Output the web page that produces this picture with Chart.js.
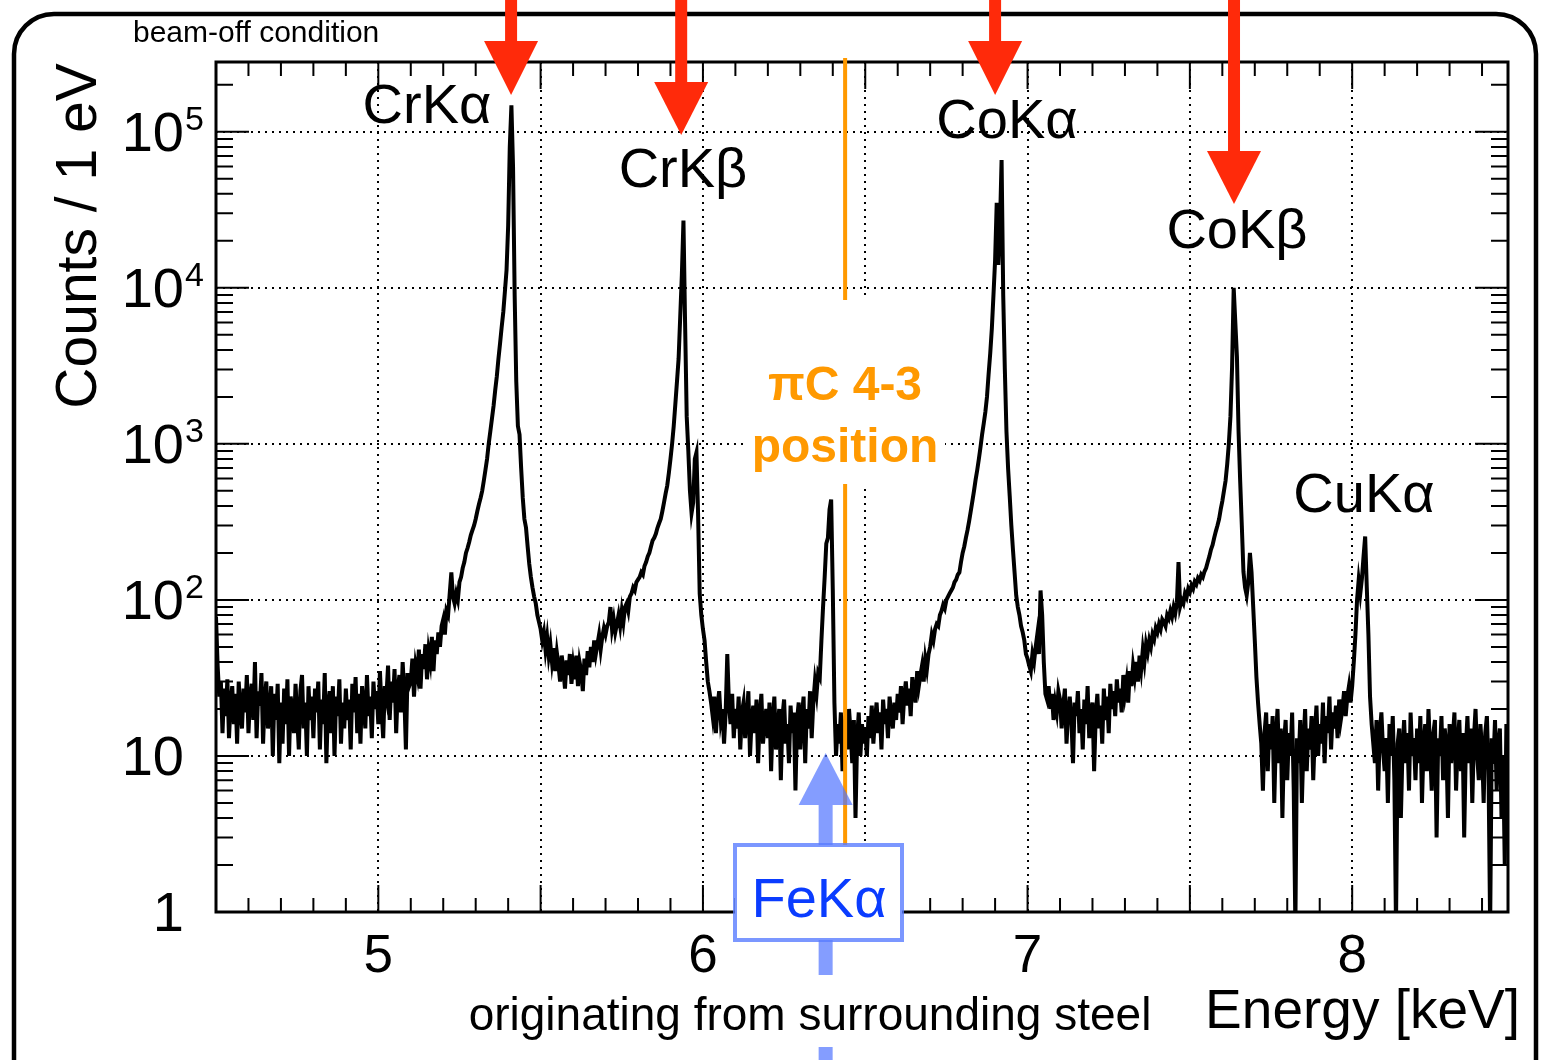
<!DOCTYPE html>
<html>
<head>
<meta charset="utf-8">
<script src="https://cdn.jsdelivr.net/npm/chart.js@4.4.1/dist/chart.umd.min.js"></script>
<style>
  html, body { margin: 0; padding: 0; background: #fff; }
  #wrap { width: 1541px; height: 1060px; }
</style>
</head>
<body>
<div id="wrap"><canvas id="spectrum" width="1541" height="1060"></canvas></div>
<script>
// --- Spectrum data: counts per bin in 5 eV steps from 4.500 keV ---
const eStart = 4.5;
const eStep = 0.005;
const counts = [
  78, 38, 24, 30, 14, 27, 18, 31, 13, 22, 28, 16, 25, 12, 30, 20, 15, 27, 19, 33,            // 4.50
  14, 24, 29, 17, 40, 13, 26, 21, 34, 12, 23, 30, 15, 19, 28, 10, 25, 17, 29, 9,             // 4.60
  22, 12, 27, 16, 31, 10, 24, 20, 14, 29, 18, 11, 26, 33, 15, 22, 10, 28, 17, 24,            // 4.70
  13, 27, 19, 30, 11, 23, 16, 34, 9, 21, 26, 14, 28, 10, 24, 18, 31, 12, 22, 15,             // 4.80
  27, 17, 23, 11, 29, 19, 32, 14, 25, 12, 28, 21, 15, 33, 18, 24, 13, 30, 20, 26,            // 4.90
  16, 35, 20, 13, 28, 24, 38, 17, 30, 22, 36, 14, 27, 33, 19, 40, 25, 11, 34, 28,            // 5.00
  30, 42, 24, 38, 33, 48, 27, 45, 36, 52, 31, 47, 40, 58, 35, 55, 45, 62, 50, 68,            // 5.10
  75, 60, 85, 80, 110, 150, 105, 95, 110, 100, 130, 140, 160, 175, 200, 215, 235, 260, 280, 300, // 5.20
  330, 370, 410, 450, 500, 580, 680, 800, 1000, 1200, 1450, 1750, 2200, 2700, 3500, 4400, 5600, 7000, 9500, 13000, // 5.30
  25000, 80000, 148000, 60000, 9000, 2500, 1300, 1150, 700, 450, 330, 290, 220, 170, 140, 120, 105, 95, 80, 72, // 5.40
  65, 55, 62, 48, 58, 44, 52, 40, 49, 35, 46, 38, 30, 44, 36, 27, 41, 33, 45, 29,            // 5.50
  38, 31, 44, 28, 40, 35, 26, 42, 33, 47, 37, 50, 40, 55, 45, 52, 60, 48, 58, 66,            // 5.60
  60, 68, 72, 90, 65, 75, 62, 70, 80, 68, 85, 72, 90, 95, 85, 105, 110, 120, 115, 130,       // 5.70
  135, 140, 150, 145, 165, 175, 190, 200, 220, 240, 250, 265, 290, 310, 330, 370, 420, 480, 540, 650, // 5.80
  800, 1000, 1300, 1800, 2500, 3500, 6500, 12000, 27000, 6000, 1500, 900, 500, 360, 420, 800, 880, 360, 110, 80, // 5.90
  65, 55, 40, 30, 26, 22, 18, 24, 14, 21, 26, 17, 20, 12, 19, 45, 22, 16, 25, 13,            // 6.00
  20, 15, 24, 11, 19, 22, 13, 18, 26, 10, 17, 21, 14, 23, 9, 18, 25, 12, 16, 20,             // 6.10
  13, 22, 8, 17, 24, 11, 15, 20, 7, 18, 23, 12, 16, 9, 21, 14, 19, 6, 17, 22,                // 6.20
  11, 18, 24, 9, 20, 15, 26, 13, 22, 30, 25, 34, 32, 55, 90, 140, 230, 250, 380, 440,        // 6.30
  117, 22, 10, 16, 12, 19, 8, 15, 18, 11, 20, 14, 9, 17, 4, 13, 19, 10, 16, 12,              // 6.40
  15, 10, 18, 13, 21, 12, 17, 22, 14, 19, 11, 23, 16, 20, 13, 24, 18, 15, 22, 17,            // 6.50
  25, 19, 28, 16, 24, 30, 21, 27, 18, 32, 26, 22, 35, 28, 33, 38, 30, 42, 36, 45,            // 6.60
  50, 60, 55, 65, 70, 68, 80, 85, 93, 88, 100, 105, 110, 115, 120, 130, 135, 145, 150, 175,  // 6.70
  200, 220, 250, 280, 320, 370, 430, 500, 590, 680, 800, 950, 1150, 1350, 1600, 2000, 2800, 3800, 5500, 9000, // 6.80
  15000, 35000, 14000, 25000, 66000, 9000, 3000, 1200, 700, 465, 300, 210, 150, 107, 90, 80, 68, 62, 55, 45, // 6.90
  42, 38, 35, 45, 40, 50, 60, 45, 115, 80, 40, 25, 23, 28, 20, 25, 17, 22, 19, 26,           // 7.00
  23, 15, 21, 27, 12, 19, 24, 17, 9, 22, 18, 26, 14, 20, 11, 23, 16, 28, 13, 19,             // 7.10
  22, 8, 18, 25, 15, 21, 12, 27, 17, 24, 14, 29, 20, 26, 18, 31, 22, 27, 19, 33,             // 7.20
  25, 30, 22, 35, 28, 38, 32, 40, 30, 44, 36, 48, 40, 52, 46, 55, 50, 60, 56, 66,            // 7.30
  62, 70, 65, 75, 72, 68, 80, 76, 85, 78, 90, 82, 96, 175, 91, 100, 95, 110, 104, 118,       // 7.40
  112, 124, 118, 131, 126, 138, 133, 145, 140, 152, 160, 175, 190, 210, 225, 250, 275, 300, 330, 380, // 7.50
  430, 500, 580, 740, 1000, 1500, 3100, 10000, 6000, 3600, 1200, 575, 300, 152, 120, 107, 130, 200, 150, 91, // 7.60
  55, 32, 22, 16, 12, 6, 14, 19, 8, 16, 11, 18, 5, 13, 20, 9, 15, 4, 12, 17,                 // 7.70
  7, 14, 10, 19, 6, 0.8, 13, 9, 17, 5, 12, 20, 8, 15, 11, 18, 7, 14, 21, 10,                 // 7.80
  16, 12, 22, 9, 18, 14, 24, 11, 19, 15, 21, 13, 23, 17, 20, 26, 18, 24, 28, 22,             // 7.90
  28, 40, 60, 100, 134, 110, 137, 190, 255, 120, 60, 24, 16, 12, 9, 17, 6, 14, 19, 11,       // 8.00
  8, 13, 5, 16, 10, 18, 7, 0.8, 12, 15, 4, 11, 17, 9, 14, 6, 19, 10, 13, 7,                  // 8.10
  15, 9, 18, 5, 12, 16, 8, 20, 11, 6, 14, 17, 3, 13, 10, 18, 7, 15, 12, 4,                   // 8.20
  16, 9, 13, 19, 6, 12, 17, 8, 14, 3, 11, 18, 9, 15, 5, 13, 20, 10, 7, 16,                   // 8.30
  11, 5, 14, 18, 8, 0.8, 13, 9, 17, 6, 12, 15, 4, 10, 2, 16, 9                               // 8.40
];

// --- Axes ---
const xMin = 4.5, xMax = 8.48;
const yMin = 1, yMax = 2.8e5;
const xTickLabels = [5, 6, 7, 8];
const xGridLines = [5, 5.5, 6, 6.5, 7, 7.5, 8];
const yDecades = [1, 10, 100, 1000, 10000, 100000];
const yLabelBase = ['1', '10', '10', '10', '10', '10'];
const yLabelExp = ['', '', '2', '3', '4', '5'];

// --- Annotations ---
const peakNames = ['CrKα', 'CrKβ', 'CoKα', 'CoKβ', 'CuKα'];
const arrowEnergies = [5.409, 5.933, 6.900, 7.636];   // red arrows (keV)
const piC43Energy = 6.438;                            // orange marker (keV)
const feKaEnergy = 6.378;                             // blue arrow (keV)

const FONT = '"Liberation Sans", Arial, Helvetica, sans-serif';

const points = counts.map((c, i) => ({ x: +(eStart + i * eStep).toFixed(3), y: c }));

function redArrow(ctx, x, headTop, tipY) {
    ctx.fillStyle = '#ff2a0a';
    ctx.fillRect(x - 6, 0, 12, headTop + 2);
    ctx.beginPath();
    ctx.moveTo(x - 27, headTop);
    ctx.lineTo(x + 27, headTop);
    ctx.lineTo(x, tipY);
    ctx.closePath();
    ctx.fill();
}

const overlay = {
    id: 'overlay',
    beforeDatasetsDraw(chart) {
        const { ctx, chartArea: a, scales: { x, y } } = chart;
        ctx.save();
        ctx.strokeStyle = '#000';
        ctx.lineWidth = 2;
        ctx.setLineDash([2, 5]);
        xGridLines.forEach(v => {
            const px = Math.round(x.getPixelForValue(v));
            ctx.beginPath(); ctx.moveTo(px, a.top); ctx.lineTo(px, a.bottom); ctx.stroke();
        });
        yDecades.slice(1).forEach(v => {
            const py = Math.round(y.getPixelForValue(v));
            ctx.beginPath(); ctx.moveTo(a.left, py); ctx.lineTo(a.right, py); ctx.stroke();
        });
        ctx.restore();
    },
    afterDatasetsDraw(chart) {
        const { ctx, chartArea: a, scales: { x, y } } = chart;
        ctx.save();

        // figure frame (rounded, open at the bottom)
        ctx.strokeStyle = '#000';
        ctx.lineWidth = 4.5;
        ctx.beginPath();
        ctx.roundRect(14, 14, 1522, 1120, 40);
        ctx.stroke();

        // plot frame
        ctx.lineWidth = 3;
        ctx.strokeRect(a.left, a.top, a.right - a.left, a.bottom - a.top);

        // x ticks (bottom and top)
        ctx.lineWidth = 2;
        for (let k = 46; k <= 84; k++) {
            const px = x.getPixelForValue(k / 10);
            const len = k % 5 === 0 ? 27 : 14;
            ctx.beginPath();
            ctx.moveTo(px, a.bottom); ctx.lineTo(px, a.bottom - len);
            ctx.moveTo(px, a.top); ctx.lineTo(px, a.top + len);
            ctx.stroke();
        }
        // y ticks (left and right)
        yDecades.forEach(d => {
            for (let m = 1; m <= 9; m++) {
                const v = m * d;
                if (v <= yMin || v > yMax) continue;
                const py = y.getPixelForValue(v);
                const len = m === 1 ? 33 : 17;
                ctx.beginPath();
                ctx.moveTo(a.left, py); ctx.lineTo(a.left + len, py);
                ctx.moveTo(a.right, py); ctx.lineTo(a.right - len, py);
                ctx.stroke();
            }
        });

        // tick labels
        ctx.fillStyle = '#000';
        ctx.font = '53px ' + FONT;
        ctx.textAlign = 'center';
        ctx.textBaseline = 'alphabetic';
        xTickLabels.forEach(v => ctx.fillText(String(v), x.getPixelForValue(v), 972));
        yDecades.forEach((d, i) => {
            const py = y.getPixelForValue(d);
            ctx.font = '56px ' + FONT;
            ctx.textAlign = 'right';
            ctx.fillText(yLabelBase[i], 184, py + 19);
            if (yLabelExp[i]) {
                ctx.font = '34px ' + FONT;
                ctx.textAlign = 'left';
                ctx.fillText(yLabelExp[i], 185, py - 2);
            }
        });

        // axis titles
        ctx.font = '55px ' + FONT;
        ctx.textAlign = 'right';
        ctx.fillText('Energy [keV]', 1520, 1028);
        ctx.font = '57px ' + FONT;
        ctx.save();
        ctx.translate(96, 236);
        ctx.rotate(-Math.PI / 2);
        ctx.textAlign = 'center';
        ctx.fillText('Counts / 1 eV', 0, 0);
        ctx.restore();

        ctx.font = '30px ' + FONT;
        ctx.textAlign = 'left';
        ctx.fillText('beam-off condition', 133, 42);

        // peak names
        ctx.font = '56px ' + FONT;
        ctx.textAlign = 'center';
        const labelPos = [[427, 123], [683, 187], [1007, 138], [1237, 248], [1364, 512]];
        peakNames.forEach((n, i) => ctx.fillText(n, labelPos[i][0], labelPos[i][1]));

        // pionic carbon 4-3 marker
        const ox = x.getPixelForValue(piC43Energy);
        ctx.fillStyle = '#fff';
        ctx.fillRect(745, 300, 200, 184);
        ctx.strokeStyle = '#ff9900';
        ctx.lineWidth = 4;
        ctx.beginPath();
        ctx.moveTo(ox, 58); ctx.lineTo(ox, 300);
        ctx.moveTo(ox, 484); ctx.lineTo(ox, 845);
        ctx.stroke();
        ctx.fillStyle = '#ff9900';
        ctx.font = 'bold 48px ' + FONT;
        ctx.fillText('πC 4-3', 845, 400);
        ctx.fillText('position', 845, 462);

        // FeKa arrow and box
        const bx = x.getPixelForValue(feKaEnergy);
        ctx.fillStyle = 'rgba(80, 115, 255, 0.7)';
        ctx.beginPath();
        ctx.moveTo(bx, 753);
        ctx.lineTo(bx + 27, 805);
        ctx.lineTo(bx - 27, 805);
        ctx.closePath();
        ctx.fill();
        ctx.fillRect(bx - 7, 805, 14, 40);
        ctx.fillRect(bx - 7, 940, 14, 130);
        ctx.fillStyle = '#fff';
        ctx.fillRect(735, 845, 167, 95);
        ctx.strokeStyle = 'rgba(90, 125, 255, 0.8)';
        ctx.lineWidth = 4;
        ctx.strokeRect(735, 845, 167, 95);
        ctx.fillStyle = '#0a3cff';
        ctx.font = '56px ' + FONT;
        ctx.fillText('FeKα', 819, 917);

        // caption with white backing
        ctx.font = '46px ' + FONT;
        const cap = 'originating from surrounding steel';
        const cw = ctx.measureText(cap).width;
        ctx.fillStyle = '#fff';
        ctx.fillRect(810 - cw / 2 - 4, 975, cw + 8, 72);
        ctx.fillStyle = '#000';
        ctx.fillText(cap, 810, 1030);

        // red arrows
        const heads = [[41, 95], [82, 135], [41, 95], [151, 204]];
        arrowEnergies.forEach((e, i) => redArrow(ctx, x.getPixelForValue(e), heads[i][0], heads[i][1]));

        ctx.restore();
    }
};

new Chart(document.getElementById('spectrum'), {
    type: 'line',
    data: {
        datasets: [{
            label: 'beam-off',
            data: points,
            borderColor: '#000',
            borderWidth: 4,
            pointRadius: 0,
            tension: 0,
            fill: false
        }]
    },
    options: {
        responsive: false,
        devicePixelRatio: 1,
        animation: false,
        layout: { padding: { left: 216, right: 33, top: 62, bottom: 148 } },
        plugins: { legend: { display: false }, tooltip: { enabled: false } },
        scales: {
            x: { type: 'linear', min: xMin, max: xMax, display: false },
            y: { type: 'logarithmic', min: yMin, max: yMax, display: false }
        }
    },
    plugins: [overlay]
});
</script>
</body>
</html>
